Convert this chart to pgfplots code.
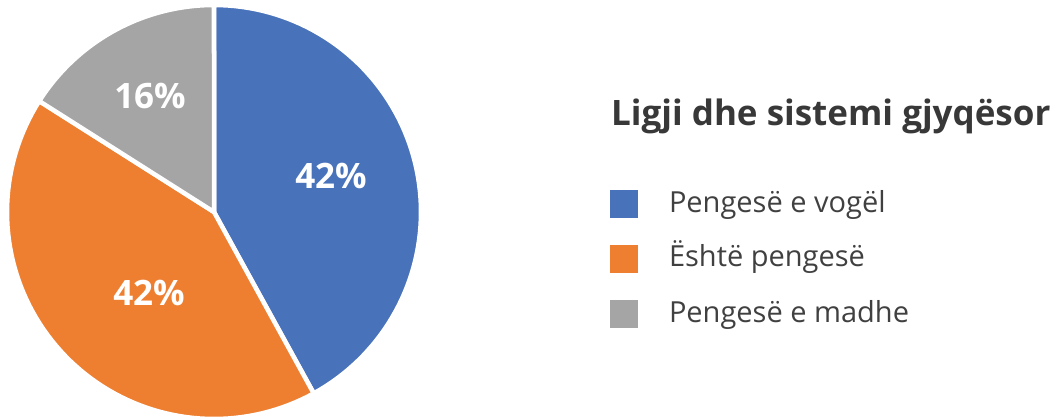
\documentclass[border=0pt]{standalone}
\usepackage{pgfplots}
\pgfplotsset{compat=1.18}
\usepackage{fontspec}
\setmainfont{Open Sans}
\definecolor{cblue}{HTML}{4872BA}
\definecolor{corange}{HTML}{EE7F31}
\definecolor{cgray}{HTML}{A5A5A5}
\definecolor{ctext}{HTML}{404040}
\definecolor{ctitle}{HTML}{383838}
% shares (percent)
\def\vA{42}\def\vB{42}\def\vC{16}
\pgfmathsetmacro{\cA}{\vA}
\pgfmathsetmacro{\cB}{\vA+\vB}
\pgfmathsetmacro{\cC}{\vA+\vB+\vC}
\def\cx{214}\def\cy{206}\def\R{207}
\begin{document}
\begin{tikzpicture}
\begin{axis}[
  scale only axis, width=1050pt, height=418pt,
  xmin=0, xmax=1050, ymin=0, ymax=418,
  hide axis, clip=false,
  legend style={at={(axis cs:610,228)}, anchor=north west, draw=none, fill=none,
    inner sep=0pt, outer sep=0pt, column sep=0pt, row sep=27pt,
    font=\fontsize{29}{29}\selectfont\color{ctext},
    nodes={inner sep=0pt, outer sep=0pt, text height=22pt, text depth=6pt, anchor=base west}},
  legend cell align=left,
  legend image code/.code={\path[#1, draw=none] (0pt,-6pt) rectangle (28pt,22pt); \path[draw=none, fill=none] (0pt,0pt) -- (59pt,0pt);},
]
\addplot[fill=cblue, draw=white, line width=4.5pt, line join=round, domain=0:\cA, samples=80, variable=\t]
  ({\cx+\R*cos(90-3.6*\t)}, {\cy+\R*sin(90-3.6*\t)}) -- (axis cs:\cx,\cy) -- cycle;
\addplot[fill=corange, draw=white, line width=4.5pt, line join=round, domain=\cA:\cB, samples=80, variable=\t]
  ({\cx+\R*cos(90-3.6*\t)}, {\cy+\R*sin(90-3.6*\t)}) -- (axis cs:\cx,\cy) -- cycle;
\addplot[fill=cgray, draw=white, line width=4.5pt, line join=round, domain=\cB:\cC, samples=40, variable=\t]
  ({\cx+\R*cos(90-3.6*\t)}, {\cy+\R*sin(90-3.6*\t)}) -- (axis cs:\cx,\cy) -- cycle;
\legend{Pengesë e vogël, Është pengesë, Pengesë e madhe}
\node[anchor=base, text=white, font=\fontsize{35}{35}\selectfont\bfseries, inner sep=0pt] at (axis cs:331,229) {42\%};
\node[anchor=base, text=white, font=\fontsize{35}{35}\selectfont\bfseries, inner sep=0pt] at (axis cs:149,113) {42\%};
\node[anchor=base, text=white, font=\fontsize{35}{35}\selectfont\bfseries, inner sep=0pt] at (axis cs:150,309) {16\%};
\node[anchor=base west, text=ctitle, font=\fontsize{35}{35}\selectfont\bfseries, inner sep=0pt] at (axis cs:611,292) {Ligji dhe sistemi gjyqësor};
\end{axis}
\pgfresetboundingbox
\path (current axis.south west) rectangle (current axis.north east);
\end{tikzpicture}
\end{document}
